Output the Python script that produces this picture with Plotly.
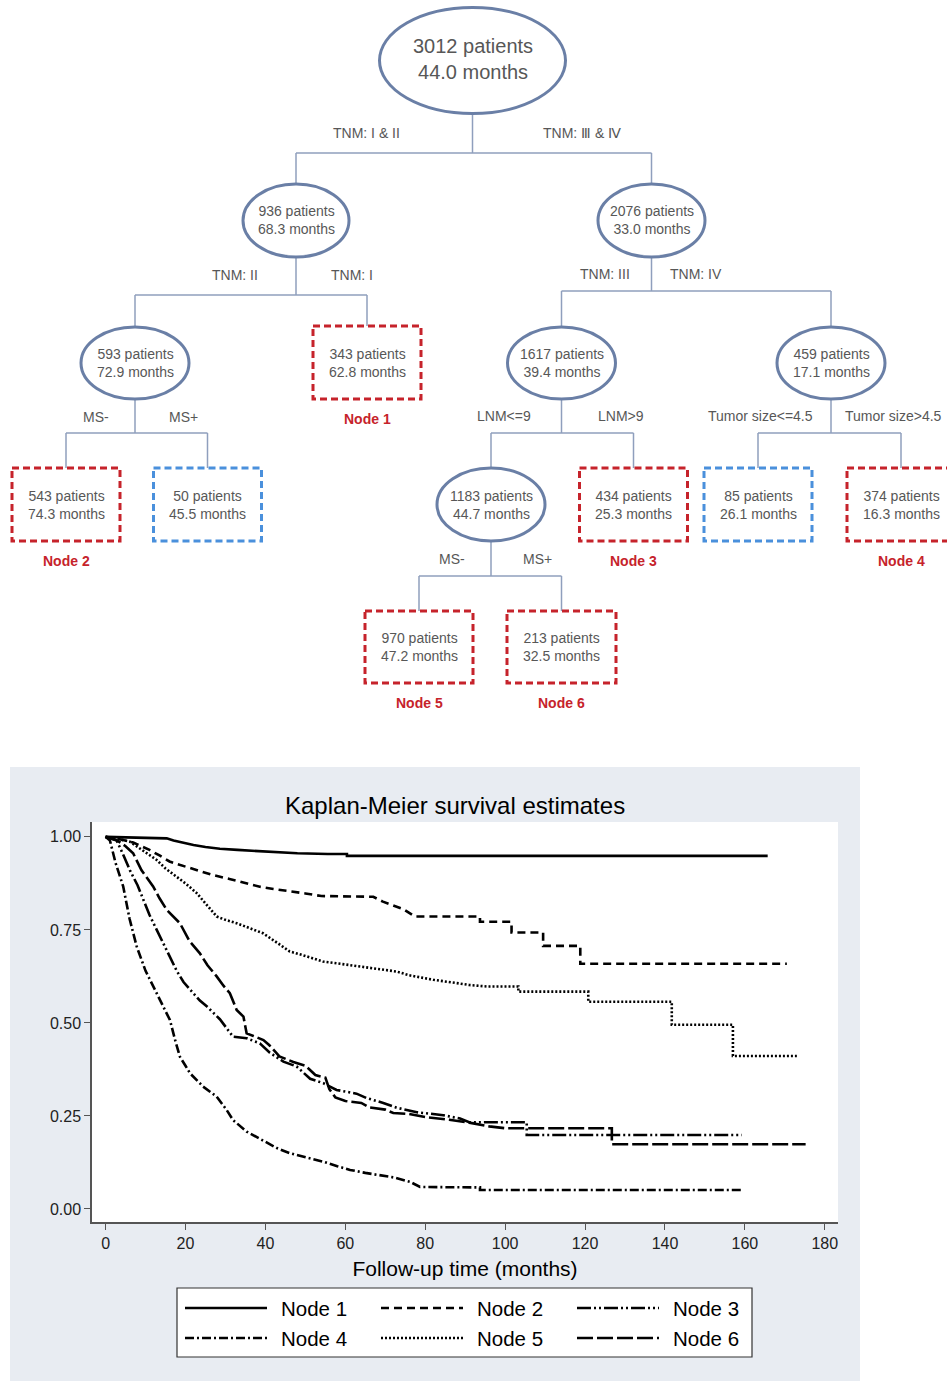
import plotly.graph_objects as go

W, H = 947, 1381

# ---------------- Tree data ----------------
root = ("3012 patients", "44.0 months")
tree_nodes = [
    ("936 patients", "68.3 months"),
    ("2076 patients", "33.0 months"),
    ("593 patients", "72.9 months"),
    ("343 patients", "62.8 months"),
    ("1617 patients", "39.4 months"),
    ("459 patients", "17.1 months"),
    ("543 patients", "74.3 months"),
    ("50 patients", "45.5 months"),
    ("1183 patients", "44.7 months"),
    ("434 patients", "25.3 months"),
    ("85 patients", "26.1 months"),
    ("374 patients", "16.3 months"),
    ("970 patients", "47.2 months"),
    ("213 patients", "32.5 months"),
]
node_kinds = ["ell", "ell", "ell", "red", "ell", "ell", "red", "blue", "ell", "red", "blue", "red", "red", "red"]
node_names = ["", "", "", "Node 1", "", "", "Node 2", "", "", "Node 3", "", "Node 4", "Node 5", "Node 6"]
split_labels = [
    ("TNM: I & II", "TNM: \u2162 & \u2163"),
    ("TNM: II", "TNM: I"),
    ("TNM: III", "TNM: IV"),
    ("MS-", "MS+"),
    ("LNM<=9", "LNM>9"),
    ("Tumor size<=4.5", "Tumor size>4.5"),
    ("MS-", "MS+"),
]

# ---------------- Kaplan-Meier data ----------------
series_names = ["Node 1", "Node 2", "Node 3", "Node 4", "Node 5", "Node 6"]
node1_t = [0, 5, 10, 15.3, 17, 19.4, 22, 25, 28.6, 33, 38, 42.8, 48, 55.6, 60.4, 60.4, 165.7]
node1_s = [1, 0.999, 0.998, 0.996, 0.99, 0.984, 0.978, 0.973, 0.968, 0.965, 0.962, 0.958, 0.956, 0.954,
           0.954, 0.949, 0.949]

node2_t = [0, 3, 6.9, 9, 11, 13.5, 16, 18.5, 21, 23.6, 27, 31, 35, 38.6, 42, 46, 50, 54, 67, 69.4, 72,
           74.5, 77.4, 93.7, 93.7, 101.6, 101.6, 109.5, 109.5, 118.8, 118.8, 170.5]
node2_s = [1, 0.995, 0.985, 0.975, 0.965, 0.95, 0.934, 0.925, 0.917, 0.907, 0.897, 0.887, 0.875, 0.866,
           0.86, 0.855, 0.848, 0.841, 0.839, 0.826, 0.815, 0.806, 0.786, 0.786, 0.772, 0.772, 0.743, 0.743,
           0.707, 0.707, 0.659, 0.659]

node3_t = [0, 2.8, 4.5, 6.1, 8, 9.4, 11, 12.8, 15, 17.8, 19.5, 21.1, 23.6, 25.3, 28.6, 30, 31.9, 35.3, 38.6,
           41.1, 44.5, 47.8, 51.2, 54.5, 57.8, 62.8, 65.3, 69.5, 72.9, 77.9, 84.5, 88.7, 91, 105.4, 105.4,
           159.2]
node3_s = [1, 0.99, 0.95, 0.91, 0.87, 0.83, 0.79, 0.75, 0.70, 0.64, 0.61, 0.59, 0.56, 0.545, 0.51, 0.49,
           0.463, 0.459, 0.445, 0.42, 0.396, 0.383, 0.35, 0.338, 0.32, 0.31, 0.298, 0.285, 0.272, 0.26,
           0.252, 0.243, 0.233, 0.233, 0.199, 0.199]

node4_t = [0, 1.1, 2.5, 4.4, 6, 7.8, 10, 12.8, 14.5, 16.1, 17.5, 18.6, 20, 21.1, 24.4, 27.8, 30.3, 31.9,
           35.3, 38, 40.3, 43, 46.1, 50, 54.5, 58, 61.2, 65, 68.7, 72, 76.2, 78.7, 93.7, 93.7, 159.2]
node4_s = [1, 0.99, 0.93, 0.867, 0.78, 0.705, 0.64, 0.58, 0.54, 0.508, 0.45, 0.409, 0.385, 0.365, 0.329,
           0.302, 0.266, 0.239, 0.208, 0.192, 0.177, 0.163, 0.15, 0.14, 0.127, 0.115, 0.105, 0.097, 0.091,
           0.085, 0.073, 0.059, 0.058, 0.051, 0.051]

node5_t = [0, 3, 6.1, 9, 12.8, 15, 17.8, 20, 22.8, 25, 27.8, 30, 32.8, 36, 39.4, 43, 46.1, 50, 54.4, 58,
           62.8, 68, 72.9, 76, 79.5, 82, 87.9, 91, 95.4, 103.3, 103.3, 120.8, 120.8, 141.7, 141.7, 157, 157,
           173]
node5_s = [1, 0.995, 0.987, 0.965, 0.938, 0.915, 0.893, 0.875, 0.849, 0.82, 0.786, 0.777, 0.768, 0.755,
           0.741, 0.715, 0.692, 0.68, 0.665, 0.66, 0.653, 0.645, 0.638, 0.628, 0.62, 0.616, 0.607, 0.602,
           0.598, 0.598, 0.584, 0.584, 0.557, 0.557, 0.495, 0.495, 0.411, 0.411]

node6_t = [0, 3, 5, 6.9, 9, 11.9, 13.5, 15.3, 18.6, 21, 23.6, 25.5, 27.8, 29.5, 31.1, 32.8, 34.5, 35.3, 37,
           39.5, 41, 43.5, 47, 50, 52.5, 55, 56, 57.5, 60, 64, 66, 70, 72, 76, 80, 86, 91, 96, 100, 126.7,
           126.7, 175.2]
node6_s = [1, 0.99, 0.975, 0.956, 0.91, 0.867, 0.835, 0.804, 0.768, 0.72, 0.687, 0.655, 0.625, 0.60, 0.58,
           0.535, 0.517, 0.472, 0.465, 0.454, 0.44, 0.41, 0.395, 0.385, 0.36, 0.353, 0.322, 0.30, 0.29, 0.285,
           0.273, 0.267, 0.258, 0.255, 0.247, 0.24, 0.232, 0.222, 0.217, 0.217, 0.174, 0.174]

x_ticks = [0, 20, 40, 60, 80, 100, 120, 140, 160, 180]
y_ticks = [0, 0.25, 0.5, 0.75, 1.0]
y_tick_text = ["0.00", "0.25", "0.50", "0.75", "1.00"]

# ---------------- Layout helpers ----------------
def X(px):
    return px / W

def Y(py):
    return 1 - py / H

FONT = "Liberation Sans, Arial"
ELL_COL = "#6a7fa6"
LINE_COL = "#8f9fbd"
TXT_COL = "#575757"
RED = "#c6232b"
BLUE = "#4a90dc"

fig = go.Figure()
shapes = []
annotations = []

# node geometry (cx, cy, rx, ry)
root_geo = (472.5, 60.5, 93, 53)
geo = [
    (296, 220.5, 53, 36.5), (651.5, 220.5, 53.5, 36.5),
    (135, 363, 54, 36), (367, 362.5, 54, 36.5), (561.5, 363, 54, 36), (831, 363, 54, 36),
    (66, 504.5, 54, 36.5), (207.5, 504.5, 54, 36.5), (491, 504.5, 54, 36.5), (633.5, 504.5, 54, 36.5),
    (758, 504.5, 54, 36.5), (901, 504.5, 54, 36.5),
    (419, 647, 54, 36), (561.5, 647, 54.5, 36),
]
splits = [
    (-1, (0, 1), 153, 133),
    (0, (2, 3), 295, 275),
    (1, (4, 5), 291, 274),
    (2, (6, 7), 433, 417),
    (4, (8, 9), 433, 416),
    (5, (10, 11), 433, 416),
    (8, (12, 13), 576, 559),
]
label_x = [(366, 582), (235, 352), (605, 696), (96, 183), (504, 621), (760, 893), (452, 537)]

def g(i):
    return root_geo if i == -1 else geo[i]

def line(x0, y0, x1, y1, color=LINE_COL, width=1.5):
    shapes.append(dict(type="line", xref="paper", yref="paper", x0=X(x0), y0=Y(y0), x1=X(x1), y1=Y(y1),
                       line=dict(color=color, width=width)))

for si, (p, (a, b), ybar, ylab) in enumerate(splits):
    pcx, pcy, prx, pry = g(p)
    line(pcx, pcy + pry, pcx, ybar)
    ca, cb = g(a), g(b)
    line(ca[0], ybar, cb[0], ybar)
    line(ca[0], ybar, ca[0], ca[1] - ca[3])
    line(cb[0], ybar, cb[0], cb[1] - cb[3])
    for lx, txt in zip(label_x[si], split_labels[si]):
        annotations.append(dict(x=X(lx), y=Y(ylab), xref="paper", yref="paper", text=txt, showarrow=False,
                                font=dict(family=FONT, size=14, color=TXT_COL),
                                xanchor="center", yanchor="middle"))

cx, cy, rx, ry = root_geo
shapes.append(dict(type="circle", xref="paper", yref="paper", x0=X(cx - rx), x1=X(cx + rx),
                   y0=Y(cy - ry), y1=Y(cy + ry), line=dict(color=ELL_COL, width=3), fillcolor="white"))
annotations.append(dict(x=X(cx), y=Y(cy - 1), xref="paper", yref="paper", text=root[0] + "<br>" + root[1],
                        showarrow=False, font=dict(family=FONT, size=20, color=TXT_COL),
                        xanchor="center", yanchor="middle"))

for (cx, cy, rx, ry), txt, kind, nm in zip(geo, tree_nodes, node_kinds, node_names):
    if kind == "ell":
        shapes.append(dict(type="circle", xref="paper", yref="paper", x0=X(cx - rx), x1=X(cx + rx),
                           y0=Y(cy - ry), y1=Y(cy + ry), line=dict(color=ELL_COL, width=3), fillcolor="white"))
    else:
        col = RED if kind == "red" else BLUE
        shapes.append(dict(type="rect", xref="paper", yref="paper", x0=X(cx - rx), x1=X(cx + rx),
                           y0=Y(cy - ry), y1=Y(cy + ry), line=dict(color=col, width=3, dash="7px,4px"),
                           fillcolor="white"))
    annotations.append(dict(x=X(cx), y=Y(cy), xref="paper", yref="paper", text=txt[0] + "<br>" + txt[1],
                            showarrow=False, font=dict(family=FONT, size=14, color=TXT_COL),
                            xanchor="center", yanchor="middle"))
    if nm:
        annotations.append(dict(x=X(cx), y=Y(cy + ry + 20), xref="paper", yref="paper", text="<b>" + nm + "</b>",
                                showarrow=False, font=dict(family=FONT, size=14, color=RED),
                                xanchor="center", yanchor="middle"))

# ---------------- KM panel ----------------
PL, PR, PT, PB = 92, 838, 822, 1222
shapes.insert(0, dict(type="rect", xref="paper", yref="paper", x0=X(10), x1=X(860), y0=Y(767), y1=0,
                      fillcolor="#e8ecf2", line=dict(width=0), layer="below"))
shapes.insert(1, dict(type="rect", xref="paper", yref="paper", x0=X(PL), x1=X(PR), y0=Y(PT), y1=Y(PB),
                      fillcolor="white", line=dict(width=0), layer="below"))

dashes = ["solid", "8px,5px", "14px,3px,2px,3px,2px,3px", "9px,3px,2px,3px", "2px,2px", "16px,4px"]
all_t = [node1_t, node2_t, node3_t, node4_t, node5_t, node6_t]
all_s = [node1_s, node2_s, node3_s, node4_s, node5_s, node6_s]
for nm, t, s, d in zip(series_names, all_t, all_s, dashes):
    fig.add_trace(go.Scatter(x=t, y=s, mode="lines", name=nm,
                             line=dict(color="black", width=2.6, dash=d), showlegend=False))

# legend (drawn as a framed key)
LX0, LX1, LY0, LY1 = 177, 752, 1288, 1357
shapes.append(dict(type="rect", xref="paper", yref="paper", x0=X(LX0), x1=X(LX1), y0=Y(LY0), y1=Y(LY1),
                   fillcolor="white", line=dict(color="#333333", width=1.2)))
col_x = [185, 381, 577]
row_y = [1308, 1338]
for i, (nm, d) in enumerate(zip(series_names, dashes)):
    r, c = divmod(i, 3)
    x0 = col_x[c]
    yy = row_y[r]
    shapes.append(dict(type="line", xref="paper", yref="paper", x0=X(x0), x1=X(x0 + 82), y0=Y(yy), y1=Y(yy),
                       line=dict(color="black", width=2.6, dash=d)))
    annotations.append(dict(x=X(x0 + 94), y=Y(yy), xref="paper", yref="paper", text=nm, showarrow=False,
                            xanchor="left", yanchor="middle",
                            font=dict(family=FONT, size=20.5, color="black")))

annotations.append(dict(x=X(455), y=Y(805), xref="paper", yref="paper", text="Kaplan-Meier survival estimates",
                        showarrow=False, xanchor="center", yanchor="middle",
                        font=dict(family=FONT, size=24, color="black")))

fig.update_layout(
    width=W, height=H, autosize=False,
    margin=dict(l=0, r=0, t=0, b=0),
    paper_bgcolor="white", plot_bgcolor="rgba(0,0,0,0)",
    showlegend=False,
    shapes=shapes, annotations=annotations,
    xaxis=dict(domain=[X(PL), X(PR)], range=[-3.4, 183.3], tickvals=x_ticks, ticks="outside", ticklen=6,
               tickcolor="#555", tickwidth=1.3, showline=True, linecolor="#555", linewidth=1.5, showgrid=False,
               zeroline=False, tickfont=dict(family=FONT, size=16, color="#222"),
               title=dict(text="Follow-up time (months)", standoff=10,
                          font=dict(family=FONT, size=21, color="black"))),
    yaxis=dict(domain=[Y(PB), Y(PT)], range=[-0.035, 1.04], tickvals=y_ticks, ticktext=y_tick_text,
               ticks="outside", ticklen=6, tickcolor="#555", tickwidth=1.3, showline=True, linecolor="#555",
               linewidth=1.5, showgrid=False, zeroline=False,
               tickfont=dict(family=FONT, size=16, color="#222")),
)

fig.write_html("out.html", config={"displayModeBar": False},
               post_script="document.body.style.margin='0';")
